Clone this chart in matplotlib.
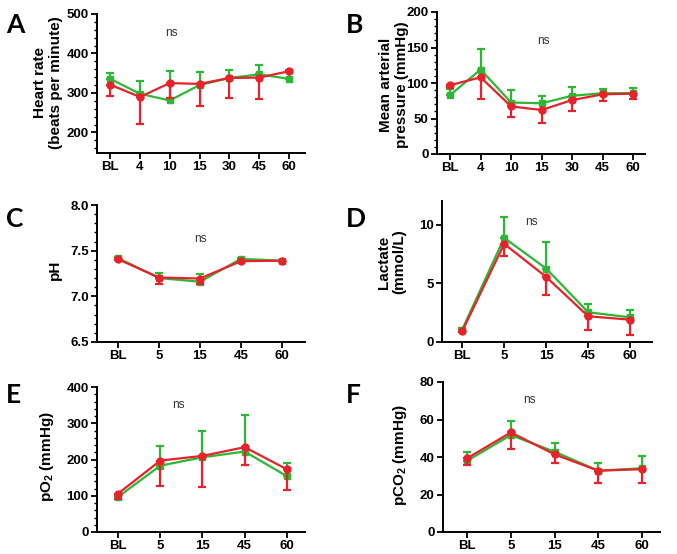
import matplotlib
matplotlib.use("Agg")
import matplotlib.pyplot as plt
from matplotlib.ticker import MultipleLocator
import numpy as np

plt.rcParams['font.family'] = ['Liberation Sans', 'DejaVu Sans']
plt.rcParams['mathtext.fontset'] = 'custom'
plt.rcParams['mathtext.rm'] = 'Liberation Sans:bold'
plt.rcParams['mathtext.it'] = 'Liberation Sans:bold'
plt.rcParams['mathtext.bf'] = 'Liberation Sans:bold'

RED = '#E8212B'
GREEN = '#2DB734'

# ---------------- data ----------------
# Panel A: heart rate
a_labels = ['BL', '4', '10', '15', '30', '45', '60']
a_red = [321, 290, 325, 323, 338, 339, 355]
a_red_err = [29, 68, 38, 57, 50, 53, 3]
a_green = [336, 298, 281, 320, 338, 347, 336]
a_green_err = [15, 32, 74, 33, 20, 25, 23]

# Panel B: mean arterial pressure
b_labels = ['BL', '4', '10', '15', '30', '45', '60']
b_red = [97, 108, 67, 62, 76, 84, 85]
b_red_err = [2, 31, 15, 18, 15, 10, 8]
b_green = [83, 119, 72.5, 71.5, 82, 85.6, 85.6]
b_green_err = [8, 29, 17.5, 9.5, 12, 5.4, 7.4]

# Panel C: pH
c_labels = ['BL', '5', '15', '45', '60']
c_red = [7.407, 7.206, 7.195, 7.385, 7.39]
c_red_err = [0.01, 0.066, 0.062, 0.01, 0.01]
c_green = [7.42, 7.20, 7.16, 7.41, 7.39]
c_green_err = [0.01, 0.057, 0.085, 0.01, 0.01]

# Panel D: lactate
d_labels = ['BL', '5', '15', '45', '60']
d_red = [0.91, 8.35, 5.54, 2.19, 1.9]
d_red_err = [0.1, 1.0, 1.51, 1.14, 1.27]
d_green = [1.05, 8.86, 6.25, 2.53, 2.1]
d_green_err = [0.15, 1.79, 2.27, 0.71, 0.66]

# Panel E: pO2
e_labels = ['BL', '5', '15', '45', '60']
e_red = [106, 197, 210, 234, 173]
e_red_err = [16, 70, 85, 49, 56]
e_green = [97, 183, 206, 222, 154]
e_green_err = [5, 54, 74, 101, 35]

# Panel F: pCO2
f_labels = ['BL', '5', '15', '45', '60']
f_red = [39.3, 53.1, 41.4, 32.7, 33.5]
f_red_err = [3.5, 8.9, 4.4, 6.3, 7.1]
f_green = [38.0, 51.7, 42.8, 32.7, 34.0]
f_green_err = [4.8, 7.4, 4.8, 4.3, 6.5]

W, H = 677, 554
fig = plt.figure(figsize=(W / 100, H / 100), dpi=100)


def make_ax(l, r, t, b):
    return fig.add_axes([l / W, 1 - b / H, (r - l) / W, (b - t) / H])


panels = [
    # letter, labels, red, rerr, green, gerr, box(l,r,t,b), ylim, major, minor, xlim, ylabel, label pos (x,y px), ns (x idx, y val), letter pos
    ('A', a_labels, a_red, a_red_err, a_green, a_green_err, (97, 305, 14, 153), (148, 500), 100, 20,
     (-0.44, 6.54), 'Heart rate\n(beats per minute)', (48, 83), (2.05, 452), (6, 33)),
    ('B', b_labels, b_red, b_red_err, b_green, b_green_err, (437, 645, 12, 154), (0, 200), 50, 10,
     (-0.43, 6.39), 'Mean arterial\npressure (mmHg)', (394, 85), (3.05, 159), (346, 33)),
    ('C', c_labels, c_red, c_red_err, c_green, c_green_err, (97, 305, 205, 342), (6.5, 8.0), 0.5, 0.1,
     (-0.51, 4.56), 'pH', (55, 270), (2.0, 7.63), (6, 227)),
    ('D', d_labels, d_red, d_red_err, d_green, d_green_err, (442, 652, 201, 342), (0, 12), 5, None,
     (-0.48, 4.52), 'Lactate\n(mmol/L)', (392, 262), (1.65, 10.2), (346, 227)),
    ('E', e_labels, e_red, e_red_err, e_green, e_green_err, (97, 305, 387, 532), (0, 400), 100, 20,
     (-0.5, 4.43), r'pO$_{2}$ (mmHg)', (47, 457), (1.43, 351), (6, 403)),
    ('F', f_labels, f_red, f_red_err, f_green, f_green_err, (443, 660, 382, 532), (0, 80), 20, None,
     (-0.55, 4.41), r'pCO$_{2}$ (mmHg)', (400, 455), (1.43, 70.3), (346, 403)),
]

for (letter, labels, red, rerr, green, gerr, box, ylim, major, minor, xlim, ylabel,
     lpos, nspos, letpos) in panels:
    ax = make_ax(*box)
    x = np.arange(len(labels))
    ax.errorbar(x, green, yerr=[np.zeros(len(gerr)), gerr], color=GREEN, marker='s',
                markersize=5, lw=1.6, elinewidth=1.6, capsize=3.2, capthick=1.6, zorder=3)
    ax.errorbar(x, red, yerr=[rerr, np.zeros(len(rerr))], color=RED, marker='o',
                markersize=5, lw=1.6, elinewidth=1.6, capsize=3.2, capthick=1.6, zorder=4)
    ax.set_xlim(*xlim)
    ax.set_ylim(*ylim)
    ax.set_xticks(x)
    ax.set_xticklabels(labels)
    ax.yaxis.set_major_locator(MultipleLocator(major))
    if minor:
        ax.yaxis.set_minor_locator(MultipleLocator(minor))
    if letter == 'C':
        ax.yaxis.set_major_formatter(matplotlib.ticker.FormatStrFormatter('%.1f'))
    for s in ['top', 'right']:
        ax.spines[s].set_visible(False)
    for s in ['left', 'bottom']:
        ax.spines[s].set_linewidth(1.4)
    ax.tick_params(axis='both', which='major', direction='out', length=4, width=1.3,
                   labelsize=9.5, pad=2)
    ax.tick_params(axis='y', which='minor', direction='out', length=2, width=1.0)
    for lab in ax.get_xticklabels() + ax.get_yticklabels():
        lab.set_fontweight('bold')
    ax.text(nspos[0], nspos[1], 'ns', fontsize=8.5, color='#333333', ha='center', va='center')
    fig.text(lpos[0] / W, 1 - lpos[1] / H, ylabel, rotation=90, ha='center', va='center',
             fontsize=11, fontweight='bold', multialignment='center', linespacing=1.1)
    fig.text(letpos[0] / W, 1 - letpos[1] / H, letter, fontsize=19, fontweight='bold',
             family=['Lato', 'DejaVu Sans'], ha='left', va='baseline')

fig.savefig('out.png', dpi=100)
